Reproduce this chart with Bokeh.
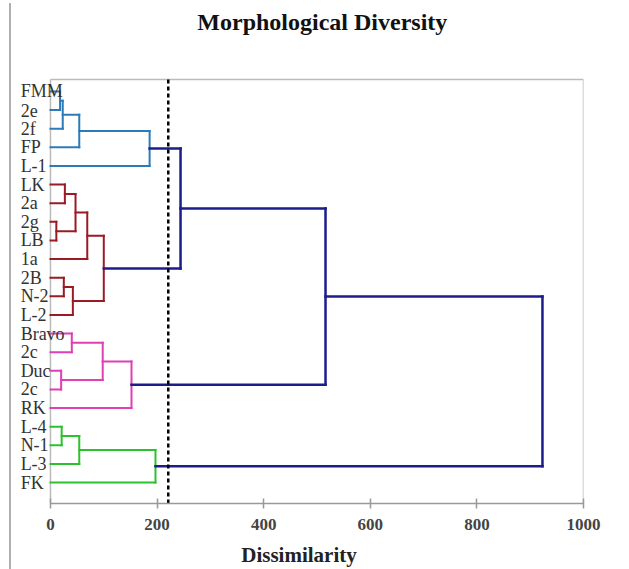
from bokeh.plotting import figure
from bokeh.models import ColumnDataSource, Range1d, LabelSet, FixedTicker
from bokeh.core.properties import value
from bokeh.embed import file_html
from bokeh.resources import INLINE

# ---------------- data ----------------
title_text = "Morphological Diversity"
leaves = ["FMM", "2e", "2f", "FP", "L-1", "LK", "2a", "2g", "LB", "1a", "2B", "N-2",
          "L-2", "Bravo", "2c", "Duc", "2c", "RK", "L-4", "N-1", "L-3", "FK"]

# merges: (left node, right node, dissimilarity, cluster)
merge_left = [0, 22, 23, 24, 5, 7, 26, 28, 10, 30, 29, 13, 15, 33, 35, 18, 37, 38, 25, 40, 41]
merge_right = [1, 2, 3, 4, 6, 8, 27, 9, 11, 12, 31, 14, 16, 34, 17, 19, 20, 21, 32, 36, 39]
merge_height = [18, 23, 54, 186, 27, 11, 47, 69, 25, 42, 100, 40, 20, 98, 152, 21, 54, 197, 244, 516, 923]
merge_group = ["blue", "blue", "blue", "blue", "red", "red", "red", "red", "red", "red", "red",
               "pink", "pink", "pink", "pink", "green", "green", "green", "top", "top", "top"]

cut_level = 221
x_ticks = [0, 200, 400, 600, 800, 1000]
x_min, x_max = 0, 1000

group_color = {"blue": "#2c7bb8", "red": "#9a1b24", "pink": "#df3fb4",
               "green": "#2cc22c", "top": "#1c1c8a"}
group_width = {"blue": 2, "red": 2, "pink": 2, "green": 2, "top": 2.5}

# ---------------- build dendrogram segments ----------------
n = len(leaves)
pos = {i: float(i) for i in range(n)}
hgt = {i: 0.0 for i in range(n)}
x0, y0, x1, y1, col, wid = [], [], [], [], [], []
for k, (a, b, h, g) in enumerate(zip(merge_left, merge_right, merge_height, merge_group)):
    c = group_color[g]
    w = group_width[g]
    ya, yb = pos[a], pos[b]
    x0.append(h); y0.append(ya); x1.append(h); y1.append(yb); col.append(c); wid.append(w)
    x0.append(hgt[a]); y0.append(ya); x1.append(h); y1.append(ya); col.append(c); wid.append(w)
    x0.append(hgt[b]); y0.append(yb); x1.append(h); y1.append(yb); col.append(c); wid.append(w)
    pos[n + k] = (ya + yb) / 2
    hgt[n + k] = h

seg_src = ColumnDataSource(dict(x0=x0, y0=y0, x1=x1, y1=y1, color=col, width=wid))

# label column sits left of the dissimilarity axis
label_x = -56
lab_src = ColumnDataSource(dict(x=[label_x] * n, y=list(range(n)), text=leaves))

# vertical extent of the boxed area (leaf units)
box_top = -0.644
box_bottom = 22.127
view_top = -4.726
title_y = -3.706

# ---------------- figure ----------------
p = figure(width=618, height=566, output_backend="svg", toolbar_location=None,
           x_range=Range1d(-67.5, x_max), y_range=Range1d(box_bottom, view_top),
           y_axis_type=None, min_border_left=3, min_border_right=46,
           min_border_top=0, min_border_bottom=66)
p.styles = {"border-left": "2px solid #b0b0b0", "margin-left": "9px", "margin-top": "3px"}
p.background_fill_color = "white"
p.border_fill_color = "white"
p.outline_line_color = None
p.xgrid.visible = False
p.ygrid.visible = False

# title
p.text(x=[(x_min + x_max) / 2 + 10], y=[title_y], text=[title_text], text_align="center",
       text_baseline="middle", text_font=value("Liberation Serif"), text_font_size="24px",
       text_font_style="bold", text_color="#111111")

# box frame around the dendrogram area
frame_col = "#bbbbbb"
p.segment(x0=[x_min, x_max, x_min], y0=[box_top, box_top, box_top],
          x1=[x_min, x_max, x_max], y1=[box_bottom, box_bottom, box_top],
          line_color=frame_col, line_width=1.5)

p.segment(x0="x0", y0="y0", x1="x1", y1="y1", line_color="color", line_width="width",
          line_cap="square", source=seg_src)

# cut level
p.segment(x0=[cut_level], y0=[box_top], x1=[cut_level], y1=[box_bottom], line_color="black",
          line_width=2.5, line_dash="4 3")

p.add_layout(LabelSet(x="x", y="y", text="text", source=lab_src, text_align="left",
                      text_baseline="middle", text_font="Liberation Serif",
                      text_font_size="18px", text_color="#333333"))

ax = p.xaxis[0]
ax.ticker = FixedTicker(ticks=x_ticks)
ax.bounds = (x_min, x_max)
ax.axis_line_color = "#999999"
ax.axis_line_width = 1.5
ax.major_tick_line_color = "#999999"
ax.major_tick_line_width = 1.5
ax.major_tick_in = 5
ax.major_tick_out = 5
ax.minor_tick_line_color = None
ax.major_label_text_font = "Liberation Serif"
ax.major_label_text_font_size = "17px"
ax.major_label_text_font_style = "bold"
ax.major_label_text_color = "#444444"
ax.major_label_standoff = 10
ax.axis_label = "Dissimilarity"
ax.axis_label_text_font = "Liberation Serif"
ax.axis_label_text_font_size = "21px"
ax.axis_label_text_font_style = "bold"
ax.axis_label_text_color = "#222222"
ax.axis_label_standoff = 10

open("out.html", "w").write(file_html(p, INLINE))
